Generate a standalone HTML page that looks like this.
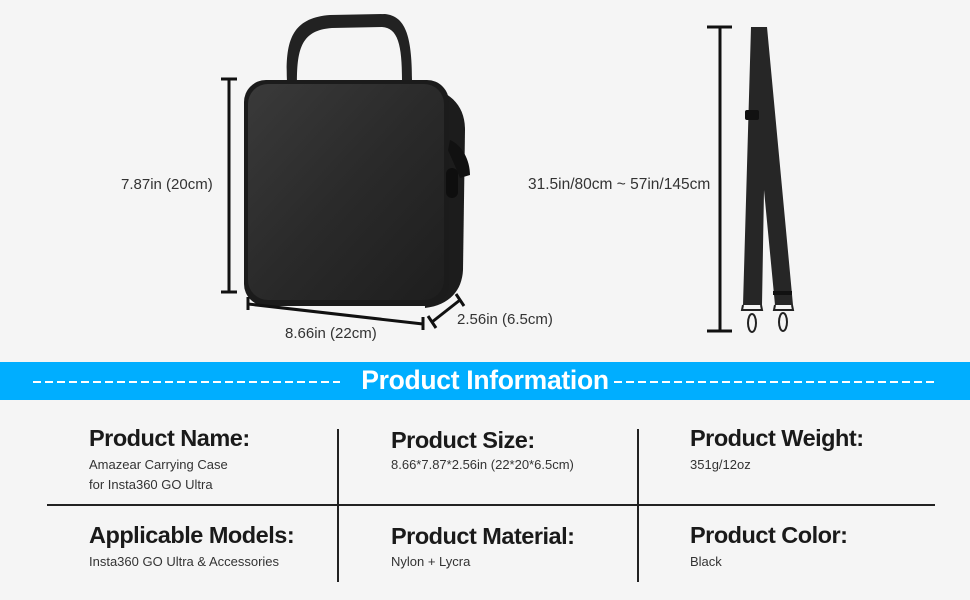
<!DOCTYPE html>
<html><head><meta charset="utf-8"><style>
html,body{margin:0;padding:0;}
body{width:970px;height:600px;background:#f5f5f5;position:relative;overflow:hidden;font-family:"Liberation Sans",sans-serif;}
.t{position:absolute;white-space:nowrap;color:#222;}
.dim{font-size:15px;color:#333;}
.h{font-size:23.5px;font-weight:bold;color:#1a1a1a;letter-spacing:-0.5px;}
.s{font-size:13px;color:#333;line-height:20px;}
</style></head><body>
<svg width="970" height="600" style="position:absolute;left:0;top:0">
  <defs>
    <linearGradient id="bg" x1="0" y1="0" x2="1" y2="1">
      <stop offset="0" stop-color="#3a3a3a"/><stop offset="0.5" stop-color="#2a2a2a"/><stop offset="1" stop-color="#1e1e1e"/>
    </linearGradient>
  </defs>
  <path d="M287 82 C285 40 292 18 330 15 L385 14 C405 16 412 35 412 80 L402 80 C402 45 398 28 382 27 L332 28 C302 30 297 48 297 82 Z" fill="#222"/>
  <path d="M420 85 C450 90 465 105 465 130 L463 270 C462 290 450 305 425 308 Z" fill="#1c1c1c"/>
  <rect x="244" y="80" width="205" height="226" rx="22" fill="#1b1b1b"/>
  <rect x="248" y="84" width="196" height="216" rx="20" fill="url(#bg)"/>
  <path d="M450 140 C462 145 470 160 470 175 L460 178 C455 165 450 155 448 150 Z" fill="#111"/>
  <rect x="446" y="168" width="12" height="30" rx="6" fill="#0e0e0e"/>
  <g stroke="#111" stroke-width="3">
    <line x1="229" y1="79" x2="229" y2="292"/>
    <line x1="221" y1="79" x2="237" y2="79"/>
    <line x1="221" y1="292" x2="237" y2="292"/>
    <line x1="248" y1="304" x2="423" y2="324"/>
    <line x1="248" y1="297" x2="248" y2="310"/>
    <line x1="423" y1="317" x2="423" y2="330"/>
    <line x1="432" y1="322" x2="460" y2="300"/>
    <line x1="428" y1="316" x2="436" y2="328"/>
    <line x1="456" y1="294" x2="464" y2="306"/>
    <line x1="720" y1="27" x2="720" y2="331"/>
    <line x1="707" y1="27" x2="732" y2="27"/>
    <line x1="707" y1="331" x2="732" y2="331"/>
  </g>
  <path d="M751 27 L767 27 L793 305 L775 305 L764 190 L762 305 L743 305 Z" fill="#262626"/>
  <rect x="745" y="110" width="14" height="10" rx="2" fill="#111"/>
  <rect x="773" y="291" width="19" height="4" fill="#111"/>
  <g fill="none" stroke="#222" stroke-width="2">
    <path d="M743 305 L742 310 L762 310 L761 305"/>
    <path d="M775 305 L774 310 L793 310 L792 305"/>
    <ellipse cx="752" cy="323" rx="4" ry="9"/>
    <ellipse cx="783" cy="322" rx="4" ry="9"/>
  </g>
  <rect x="0" y="362" width="970" height="38" fill="#00aeff"/>
  <line x1="33" y1="382" x2="340" y2="382" stroke="#fff" stroke-width="2" stroke-dasharray="8,4"/>
  <line x1="614" y1="382" x2="938" y2="382" stroke="#fff" stroke-width="2" stroke-dasharray="8,4"/>
  <g stroke="#222" stroke-width="2">
    <line x1="338" y1="429" x2="338" y2="582"/>
    <line x1="638" y1="429" x2="638" y2="582"/>
    <line x1="47" y1="505" x2="935" y2="505"/>
  </g>
</svg>
<div class="t dim" style="left:121px;top:176px">7.87in (20cm)</div>
<div class="t dim" style="left:285px;top:325px">8.66in (22cm)</div>
<div class="t dim" style="left:457px;top:311px">2.56in (6.5cm)</div>
<div class="t dim" style="left:528px;top:176px;font-size:15.5px">31.5in/80cm ~ 57in/145cm</div>
<div class="t" style="left:0;width:970px;text-align:center;top:365px;font-size:26.5px;font-weight:bold;color:#fff;letter-spacing:-0.3px">Product Information</div>

<div class="t h" style="left:89px;top:425px">Product Name:</div>
<div class="t s" style="left:89px;top:455px">Amazear Carrying Case<br>for Insta360 GO Ultra</div>
<div class="t h" style="left:391px;top:427px">Product Size:</div>
<div class="t s" style="left:391px;top:455px">8.66*7.87*2.56in (22*20*6.5cm)</div>
<div class="t h" style="left:690px;top:425px">Product Weight:</div>
<div class="t s" style="left:690px;top:455px">351g/12oz</div>

<div class="t h" style="left:89px;top:522px">Applicable Models:</div>
<div class="t s" style="left:89px;top:552px">Insta360 GO Ultra &amp; Accessories</div>
<div class="t h" style="left:391px;top:523px">Product Material:</div>
<div class="t s" style="left:391px;top:552px">Nylon + Lycra</div>
<div class="t h" style="left:690px;top:522px">Product Color:</div>
<div class="t s" style="left:690px;top:552px">Black</div>
</body></html>
